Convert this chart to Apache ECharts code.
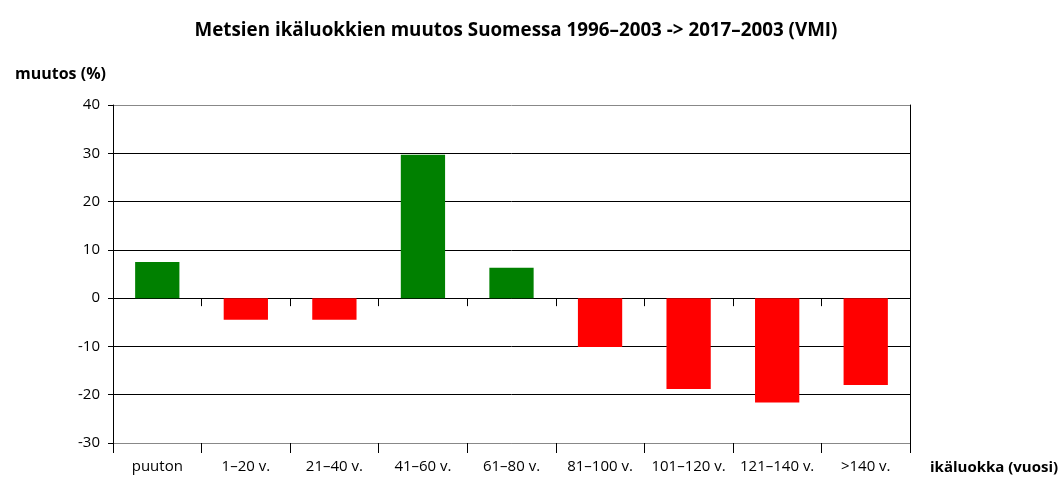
<!DOCTYPE html>
<html><head><meta charset="utf-8">
<script src="https://cdn.jsdelivr.net/npm/echarts@6/dist/echarts.min.js"></script>
<style>html,body{margin:0;padding:0;background:#fff}#c{width:1064px;height:478px}</style>
</head><body><div id="c"></div>
<script>
const categories = ['puuton', '1–20 v.', '21–40 v.', '41–60 v.', '61–80 v.', '81–100 v.', '101–120 v.', '121–140 v.', '>140 v.'];
const values = [7.5, -4.5, -4.5, 29.7, 6.3, -10.1, -18.8, -21.6, -18];
const yTicks = { min: -30, max: 40, interval: 10 };
const titleText = 'Metsien ikäluokkien muutos Suomessa 1996–2003 -> 2017–2003 (VMI)';
const yName = 'muutos (%)';
const xName = 'ikäluokka (vuosi)';

const font = '"Open Sans", Lato, sans-serif';
const chart = echarts.init(document.getElementById('c'));
chart.setOption({
  animation: false,
  textStyle: { fontFamily: font },
  title: [
    { text: titleText, left: 511, textAlign: 'center', top: 16,
      textStyle: { fontSize: 18.8, fontWeight: 'bold', color: '#000', fontFamily: font } },
    { text: yName, left: 10, top: 61,
      textStyle: { fontSize: 16, fontWeight: 'bold', color: '#000', fontFamily: font } }
  ],
  grid: { left: 113, right: 154, top: 105, bottom: 35, containLabel: false },
  xAxis: [
    { type: 'category', data: categories, position: 'bottom',
      axisLine: { onZero: true, lineStyle: { color: '#000', width: 1 } },
      axisTick: { show: true, interval: 0, inside: false, length: 8, lineStyle: { color: '#000' } },
      axisLabel: { show: false }, splitLine: { show: false } },
    { type: 'category', data: categories, position: 'bottom',
      axisLine: { onZero: false, show: true, lineStyle: { color: '#888', width: 1 } },
      axisTick: { show: true, interval: 0, length: 10, lineStyle: { color: '#000' } },
      axisLabel: { show: true, interval: 0, margin: 16, fontSize: 15, color: '#000', fontFamily: font },
      name: xName, nameLocation: 'end', nameGap: 20,
      nameTextStyle: { fontSize: 15, fontWeight: 'bold', color: '#000', fontFamily: font,
        verticalAlign: 'top', padding: [17, 0, 0, 0] },
      splitLine: { show: false } }
  ],
  yAxis: [
    { type: 'value', min: yTicks.min, max: yTicks.max, interval: yTicks.interval,
      axisLine: { show: true, lineStyle: { color: '#000' } },
      axisTick: { show: true, length: 5, lineStyle: { color: '#000' } },
      axisLabel: { margin: 13, fontSize: 15, color: '#000', fontFamily: font },
      splitLine: { show: true, lineStyle: { color: ['#888', '#000', '#000', '#000', '#000', '#000', '#000', '#888'], width: 1 } } },
    { type: 'value', min: yTicks.min, max: yTicks.max, interval: yTicks.interval, position: 'right',
      axisLine: { show: true, lineStyle: { color: '#000' } },
      axisTick: { show: false }, axisLabel: { show: false }, splitLine: { show: false } }
  ],
  series: [{
    type: 'bar', xAxisIndex: 0, yAxisIndex: 0, data: values, barWidth: '50%',
    itemStyle: { color: p => p.value >= 0 ? '#008000' : '#ff0000' }
  }]
});
</script></body></html>
